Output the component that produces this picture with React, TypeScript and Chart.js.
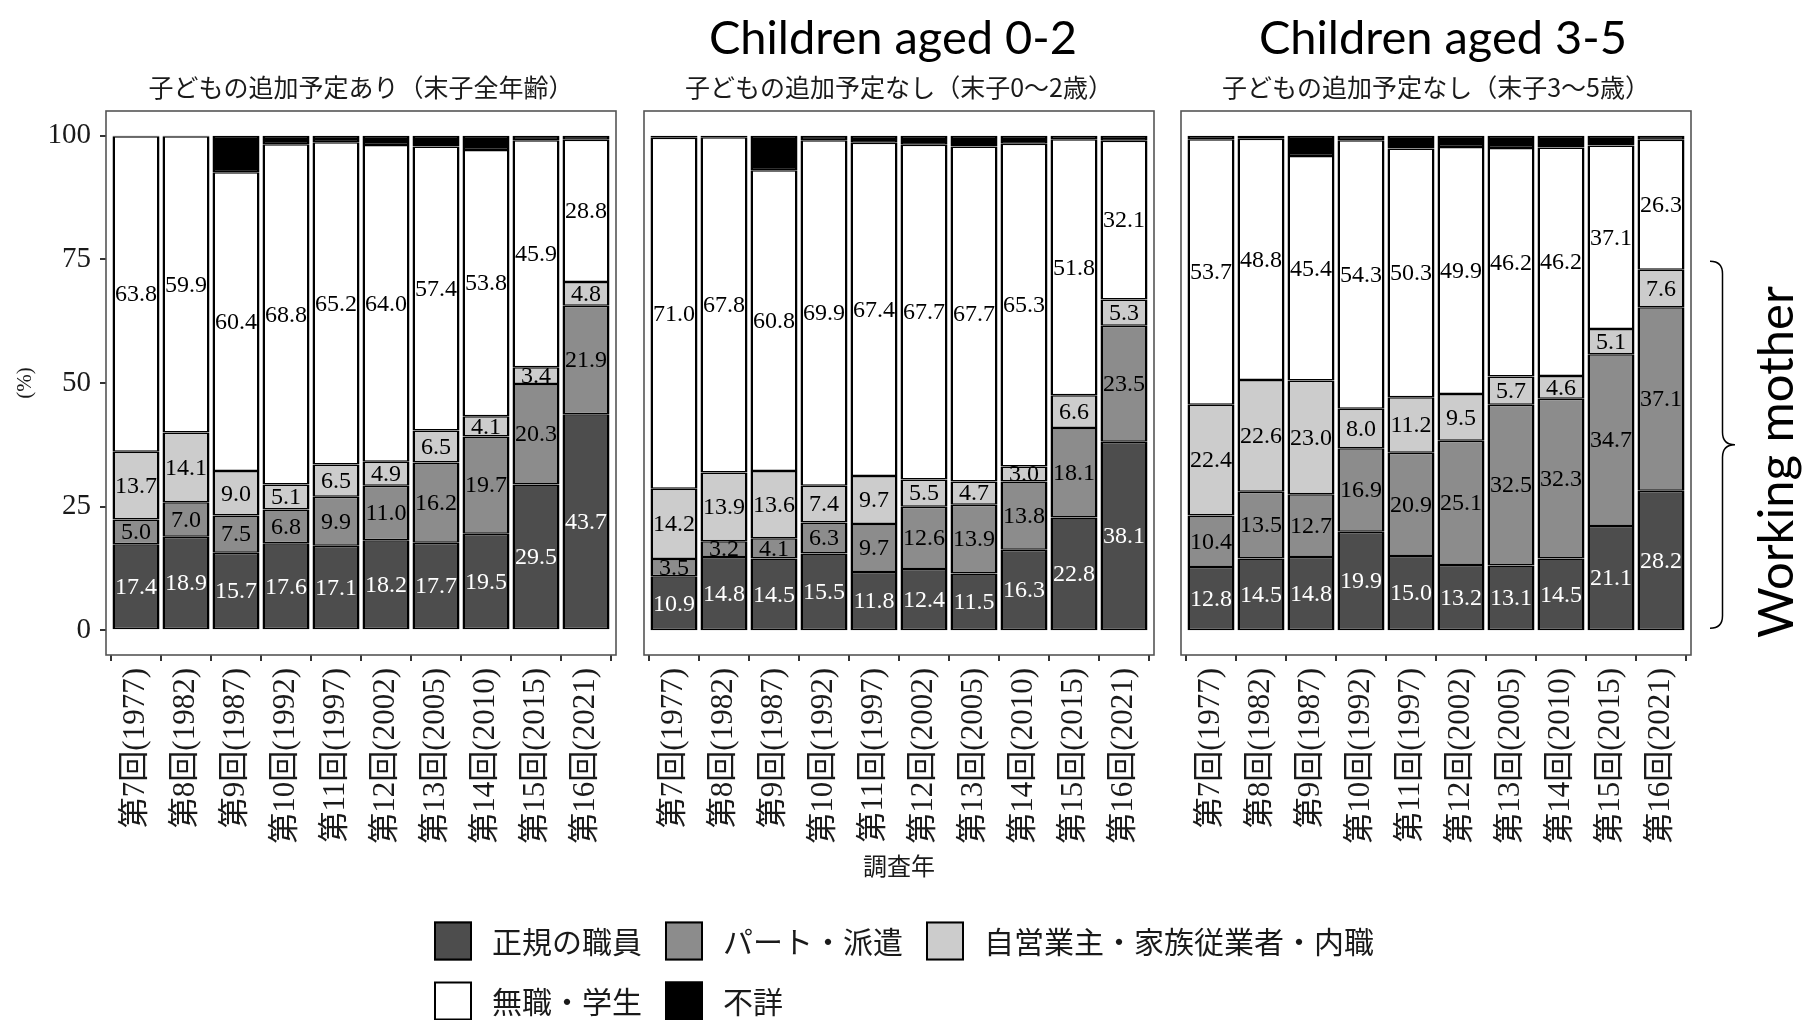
import React, { useEffect, useRef } from "react";
import { Chart, registerables } from "chart.js";

Chart.register(...registerables);

// ---------------- data ----------------
const surveyRounds = [
  "第7回(1977)",
  "第8回(1982)",
  "第9回(1987)",
  "第10回(1992)",
  "第11回(1997)",
  "第12回(2002)",
  "第13回(2005)",
  "第14回(2010)",
  "第15回(2015)",
  "第16回(2021)",
];
const yTickValues = [0, 25, 50, 75, 100];

const seriesNames = ["正規の職員", "パート・派遣", "自営業主・家族従業者・内職", "無職・学生", "不詳"];
const seriesColors = ["#4d4d4d", "#8c8c8c", "#cccccc", "#ffffff", "#000000"];

const panelTitles = [
  "子どもの追加予定あり（末子全年齢）",
  "子どもの追加予定なし（末子0～2歳）",
  "子どもの追加予定なし（末子3～5歳）",
];
const headerTitles = ["", "Children aged 0-2", "Children aged 3-5"];
const xAxisTitle = "調査年";
const yAxisTitle = "(%)";
const sideNote = "Working mother";
const braceRange = [0.4, 74.6];
const sideNoteCenter = 34;

// panel 1: 子どもの追加予定あり（末子全年齢）
const allRegular = [17.4, 18.9, 15.7, 17.6, 17.1, 18.2, 17.7, 19.5, 29.5, 43.7];
const allPart = [5.0, 7.0, 7.5, 6.8, 9.9, 11.0, 16.2, 19.7, 20.3, 21.9];
const allSelf = [13.7, 14.1, 9.0, 5.1, 6.5, 4.9, 6.5, 4.1, 3.4, 4.8];
const allNone = [63.8, 59.9, 60.4, 68.8, 65.2, 64.0, 57.4, 53.8, 45.9, 28.8];
const allUnknown = [0.1, 0.1, 7.4, 1.7, 1.3, 1.9, 2.2, 2.9, 0.9, 0.8];

// panel 2: 子どもの追加予定なし（末子0～2歳）
const age02Regular = [10.9, 14.8, 14.5, 15.5, 11.8, 12.4, 11.5, 16.3, 22.8, 38.1];
const age02Part = [3.5, 3.2, 4.1, 6.3, 9.7, 12.6, 13.9, 13.8, 18.1, 23.5];
const age02Self = [14.2, 13.9, 13.6, 7.4, 9.7, 5.5, 4.7, 3.0, 6.6, 5.3];
const age02None = [71.0, 67.8, 60.8, 69.9, 67.4, 67.7, 67.7, 65.3, 51.8, 32.1];
const age02Unknown = [0.4, 0.3, 7.0, 0.9, 1.4, 1.8, 2.2, 1.6, 0.7, 1.0];

// panel 3: 子どもの追加予定なし（末子3～5歳）
const age35Regular = [12.8, 14.5, 14.8, 19.9, 15.0, 13.2, 13.1, 14.5, 21.1, 28.2];
const age35Part = [10.4, 13.5, 12.7, 16.9, 20.9, 25.1, 32.5, 32.3, 34.7, 37.1];
const age35Self = [22.4, 22.6, 23.0, 8.0, 11.2, 9.5, 5.7, 4.6, 5.1, 7.6];
const age35None = [53.7, 48.8, 45.4, 54.3, 50.3, 49.9, 46.2, 46.2, 37.1, 26.3];
const age35Unknown = [0.7, 0.6, 4.1, 0.9, 2.6, 2.3, 2.5, 2.4, 2.0, 0.8];

const panelSeries = [
  [allRegular, allPart, allSelf, allNone, allUnknown],
  [age02Regular, age02Part, age02Self, age02None, age02Unknown],
  [age35Regular, age35Part, age35Self, age35None, age35Unknown],
];

// ---------------- styling ----------------
const W = 1814;
const H = 1020;
const SERIF = "'Liberation Serif', 'DejaVu Serif', serif";
const JP = "'Noto Sans CJK JP', 'Noto Sans', sans-serif";
const MIX = "'Liberation Serif', 'Noto Sans CJK JP', serif";
const LATIN = "Lato, 'Open Sans', sans-serif";
const INK = "#1a1a1a";

const panelLeft = [106, 644, 1181];
const panelWidth = 510;
const panelTop = 111;
const panelBottom = 655;
const xAxisHeight = 200;

function drawLegend(ctx: CanvasRenderingContext2D) {
  const rows = [
    [0, 1, 2],
    [3, 4],
  ];
  const rowY = [941, 1001];
  const keyW = 38;
  const keyH = 39;
  ctx.save();
  ctx.font = `30px ${JP}`;
  const colW = [0, 1, 2].map((c) =>
    Math.max(...rows.map((r) => (r[c] !== undefined ? ctx.measureText(seriesNames[r[c]]).width : 0)))
  );
  const colX: number[] = [];
  let x = 434;
  for (let c = 0; c < 3; c++) {
    colX.push(x);
    x += keyW + 20 + colW[c] + 23;
  }
  rows.forEach((r, ri) => {
    r.forEach((s, c) => {
      const kx = colX[c];
      const ky = rowY[ri] - keyH / 2;
      ctx.fillStyle = seriesColors[s];
      ctx.fillRect(kx, ky, keyW, keyH);
      ctx.strokeStyle = "#000";
      ctx.lineWidth = 2;
      ctx.strokeRect(kx + 1, ky + 1, keyW - 2, keyH - 2);
      ctx.fillStyle = INK;
      ctx.textAlign = "left";
      ctx.textBaseline = "middle";
      ctx.fillText(seriesNames[s], kx + keyW + 20, rowY[ri] + 1);
    });
  });
  ctx.restore();
}

function drawBrace(ctx: CanvasRenderingContext2D, x: number, yTop: number, yBot: number, depth: number) {
  const yMid = (yTop + yBot) / 2;
  const xs = x + depth * 0.5;
  const r = depth * 0.5;
  ctx.beginPath();
  ctx.moveTo(x, yTop);
  ctx.quadraticCurveTo(xs, yTop, xs, yTop + r);
  ctx.lineTo(xs, yMid - r);
  ctx.quadraticCurveTo(xs, yMid, x + depth, yMid);
  ctx.quadraticCurveTo(xs, yMid, xs, yMid + r);
  ctx.lineTo(xs, yBot - r);
  ctx.quadraticCurveTo(xs, yBot, x, yBot);
  ctx.stroke();
}

function makePlugin(p: number) {
  return {
    id: "panelDeco" + p,
    afterDatasetsDraw(chart: any) {
      const ctx: CanvasRenderingContext2D = chart.ctx;
      ctx.save();
      ctx.font = `24px ${SERIF}`;
      ctx.textAlign = "center";
      ctx.textBaseline = "middle";
      chart.data.datasets.forEach((ds: any, di: number) => {
        if (di === 4) return;
        const meta = chart.getDatasetMeta(di);
        meta.data.forEach((el: any, i: number) => {
          const { x, y, base } = el.getProps(["x", "y", "base"], true);
          const v = ds.data[i].y as number;
          ctx.fillStyle = di === 0 ? "#ffffff" : "#000000";
          ctx.fillText(v.toFixed(1), x, (y + base) / 2 + 1);
        });
      });
      ctx.restore();
    },
    afterDraw(chart: any) {
      const ctx: CanvasRenderingContext2D = chart.ctx;
      const a = chart.chartArea;
      ctx.save();
      // panel border
      ctx.strokeStyle = "#555555";
      ctx.lineWidth = 1.6;
      ctx.strokeRect(a.left, a.top, a.right - a.left, a.bottom - a.top);
      // strip title
      ctx.fillStyle = INK;
      ctx.font = `25px ${JP}`;
      ctx.textAlign = "center";
      ctx.textBaseline = "middle";
      ctx.fillText(panelTitles[p], (a.left + a.right) / 2, a.top - 24);
      // large header
      if (headerTitles[p]) {
        ctx.font = `47px ${LATIN}`;
        ctx.fillStyle = "#000";
        ctx.textBaseline = "alphabetic";
        const cx = p === 1 ? 893 : 1443;
        ctx.fillText(headerTitles[p], cx, 54);
      }
      if (p === 0) {
        ctx.save();
        ctx.translate(25, (a.top + a.bottom) / 2);
        ctx.rotate(-Math.PI / 2);
        ctx.font = `21px ${SERIF}`;
        ctx.fillStyle = INK;
        ctx.textBaseline = "middle";
        ctx.fillText(yAxisTitle, 0, 0);
        ctx.restore();
      }
      if (p === 1) {
        ctx.font = `24px ${JP}`;
        ctx.fillStyle = INK;
        ctx.textBaseline = "middle";
        ctx.fillText(xAxisTitle, (a.left + a.right) / 2, 866);
        drawLegend(ctx);
      }
      if (p === 2) {
        const ys = chart.scales.y;
        ctx.strokeStyle = "#000";
        ctx.lineWidth = 1.5;
        drawBrace(ctx, 1710, ys.getPixelForValue(braceRange[1]), ys.getPixelForValue(braceRange[0]), 25);
        ctx.save();
        ctx.translate(1793, ys.getPixelForValue(sideNoteCenter));
        ctx.rotate(-Math.PI / 2);
        ctx.font = `49px ${LATIN}`;
        ctx.fillStyle = "#000";
        ctx.textAlign = "center";
        ctx.textBaseline = "alphabetic";
        ctx.fillText(sideNote, 0, 0);
        ctx.restore();
      }
      ctx.restore();
    },
  };
}

function makeConfig(p: number): any {
  const series = panelSeries[p];
  const datasets = seriesNames.map((name, s) => ({
    label: name,
    data: series[s].map((v, i) => ({ x: i + 1, y: v })),
    backgroundColor: seriesColors[s],
    borderColor: "#000000",
    borderWidth: { top: 1.5, bottom: 1.5, left: 2.5, right: 2.5 },
    borderSkipped: false,
    inflateAmount: 0,
    barPercentage: 0.94,
    categoryPercentage: 1,
  }));
  const left = panelLeft[p];
  const showY = p === 0;
  return {
    type: "bar",
    data: { datasets },
    plugins: [makePlugin(p)],
    options: {
      animation: false,
      responsive: false,
      devicePixelRatio: 1,
      layout: {
        padding: {
          left: showY ? 0 : left,
          right: W - (left + panelWidth),
          top: panelTop,
          bottom: H - panelBottom - xAxisHeight,
        },
      },
      plugins: {
        legend: { display: false },
        tooltip: { enabled: false },
        title: { display: false },
      },
      scales: {
        x: {
          type: "linear",
          stacked: true,
          min: 0.4,
          max: 10.6,
          offset: false,
          afterBuildTicks: (scale: any) => {
            scale.ticks = surveyRounds.map((_, i) => ({ value: i + 1 }));
          },
          afterFit: (scale: any) => {
            scale.height = xAxisHeight;
          },
          grid: {
            display: true,
            drawOnChartArea: false,
            drawTicks: true,
            tickLength: 6,
            lineWidth: 2,
            color: "#333333",
          },
          border: { display: false },
          ticks: {
            autoSkip: false,
            minRotation: 90,
            maxRotation: 90,
            padding: 7,
            color: INK,
            font: { family: MIX, size: 31 },
            callback: (v: any) => surveyRounds[Math.round(Number(v)) - 1] ?? "",
          },
        },
        y: {
          type: "linear",
          stacked: true,
          min: -5,
          max: 105,
          display: showY,
          afterBuildTicks: (scale: any) => {
            scale.ticks = yTickValues.map((v) => ({ value: v }));
          },
          afterFit: (scale: any) => {
            if (showY) scale.width = panelLeft[0];
          },
          grid: {
            display: true,
            drawOnChartArea: false,
            drawTicks: true,
            tickLength: 6,
            lineWidth: 2,
            color: "#333333",
          },
          border: { display: false },
          ticks: {
            padding: 9,
            color: INK,
            font: { family: SERIF, size: 29 },
          },
        },
      },
    },
  };
}

export default function App() {
  const r0 = useRef<HTMLCanvasElement>(null);
  const r1 = useRef<HTMLCanvasElement>(null);
  const r2 = useRef<HTMLCanvasElement>(null);

  useEffect(() => {
    const refs = [r0, r1, r2];
    const charts = refs.map((r, p) => new Chart(r.current as HTMLCanvasElement, makeConfig(p)));
    return () => charts.forEach((c) => c.destroy());
  }, []);

  const cs: React.CSSProperties = { position: "absolute", left: 0, top: 0, width: W, height: H };
  return (
    <div style={{ position: "absolute", left: 0, top: 0, width: W, height: H, background: "#ffffff", overflow: "hidden" }}>
      <canvas ref={r0} width={W} height={H} style={cs} />
      <canvas ref={r1} width={W} height={H} style={cs} />
      <canvas ref={r2} width={W} height={H} style={cs} />
    </div>
  );
}
